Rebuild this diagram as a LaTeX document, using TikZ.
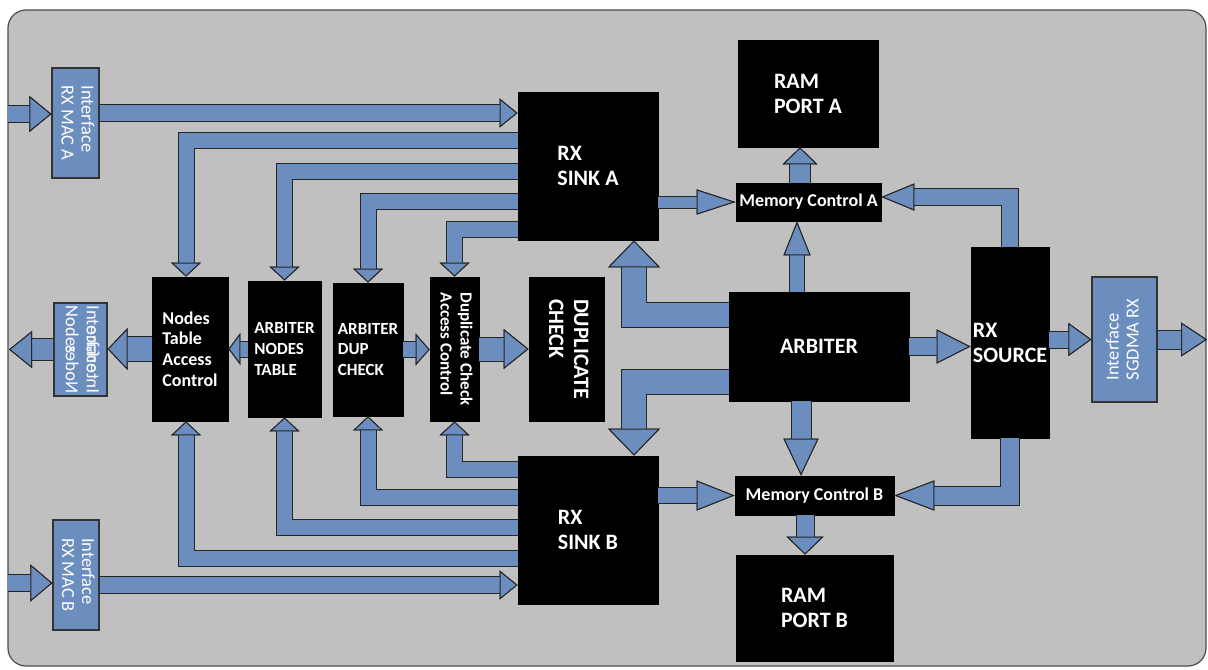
\documentclass[tikz,border=0pt]{standalone}
\usepackage{fontspec}
\setmainfont{Carlito}
\usepackage{graphicx}
\usetikzlibrary{arrows.meta}

\definecolor{bggray}{RGB}{192,192,192}
\definecolor{pipeblue}{RGB}{108,142,191}

\newcommand{\vlines}[2]{\rotatebox{#1}{\begin{tabular}{@{}l@{}}#2\end{tabular}}}
\newcommand{\vmirror}[1]{\rotatebox{-90}{\reflectbox{\begin{tabular}{@{}l@{}}#1\end{tabular}}}}

\begin{document}
\begin{tikzpicture}[
  x=0.5pt, y=-0.5pt,
  blkbox/.style={
    draw=black, fill=black, text=white, align=left, inner sep=0pt,
    font=\bfseries\fontsize{11}{12.5}\selectfont
  },
  smallblk/.style={blkbox, font=\bfseries\fontsize{8.5}{10.3}\selectfont},
  memctl/.style={blkbox, font=\bfseries\fontsize{9}{11}\selectfont},
  ifbox/.style={
    draw=black!80, fill=pipeblue, text=white, inner sep=0pt, line width=0.6pt,
    font=\fontsize{9.2}{10}\selectfont
  },
  iftext/.style={text=white, inner sep=1.5pt, font=\fontsize{9.2}{10.5}\selectfont},
  pipe/.style n args={3}{
    draw=pipeblue, line width=#1, line join=miter,
    -{Triangle[length=#3 0 0, width=#2 0 0, line width=0.5pt 0 0, color=black!85, fill=pipeblue]},
    preaction={draw=black!85, line width=#1+1pt}
  },
]

\useasboundingbox (0,0) rectangle (1208,669);

%% Grey panel
\draw[draw=black!70, fill=bggray, line width=0.6pt, rounded corners=9pt] (8,10) rectangle (1206,666);

%% Interfaces
\node[ifbox, minimum width=23.5pt, minimum height=55pt] (macA) at (75.5,123) {\vlines{-90}{Interface\\RX MAC A}};
\node[ifbox, minimum width=23pt, minimum height=55pt] (macB) at (76,575) {\vlines{-90}{Interface\\RX MAC B}};
\node[ifbox, minimum width=26.5pt, minimum height=46.5pt] (ifnodes) at (80.5,349.5) {};
\node[iftext, anchor=north] (ifnodesA) at (ifnodes.north) {\vlines{-90}{Interface\\Nodes}};
\node[iftext, anchor=south] (ifnodesB) at (ifnodes.south) {\vmirror{Interface\\Nodes}};
\node[ifbox, minimum width=32.5pt, minimum height=62.5pt] (sgdma) at (1124.5,339.5) {\vlines{90}{Interface\\SGDMA RX}};

%% Middle column of tables and checks
\node[blkbox, minimum width=38pt, minimum height=72pt, font=\bfseries\fontsize{9}{10.3}\selectfont] (ntac) at (190,349) {Nodes\\Table\\Access\\Control};
\node[smallblk, minimum width=36.5pt, minimum height=68pt] (ant) at (284.5,349) {ARBITER\\NODES\\TABLE};
\node[smallblk, minimum width=35pt, minimum height=66.5pt] (adc) at (368,349.5) {ARBITER\\DUP\\CHECK};
\node[smallblk, minimum width=24.5pt, minimum height=72pt, font=\bfseries\fontsize{8.5}{10}\selectfont] (dcac) at (454.5,349) {\vlines{-90}{Duplicate Check\\Access Control}};
\node[blkbox, minimum width=37.5pt, minimum height=72pt] (dup) at (566.5,349) {\vlines{-90}{DUPLICATE\\CHECK}};

%% Sinks, arbiter, memory and source
\node[blkbox, minimum width=70pt, minimum height=74pt] (sinka) at (588,166) {RX\\SINK A};
\node[blkbox, minimum width=70pt, minimum height=74pt] (sinkb) at (588,530) {RX\\SINK B};
\node[blkbox, minimum width=90pt, minimum height=54.5pt] (arb) at (819,346.5) {ARBITER};
\node[memctl, minimum width=72.5pt, minimum height=19pt] (mca) at (808.5,202) {Memory Control A};
\node[memctl, minimum width=79.5pt, minimum height=19.5pt] (mcb) at (814.5,495.5) {Memory Control B};
\node[blkbox, minimum width=70pt, minimum height=53.5pt] (rama) at (808,93.5) {RAM\\PORT A};
\node[blkbox, minimum width=78.5pt, minimum height=53pt] (ramb) at (814.5,608) {RAM\\PORT B};
\node[blkbox, minimum width=39pt, minimum height=95.5pt] (rxsrc) at (1010,342.5) {RX\\SOURCE};

%% Free ends and lanes
\coordinate (inA) at (8,114);
\coordinate (inB) at (8,583);
\coordinate (outN) at (9,350);
\coordinate (outS) at (1207,339);
\coordinate (laneA) at (0,113);
\coordinate (laneB) at (0,585);
\coordinate (laneU1) at (0,140);
\coordinate (laneU2) at (0,171);
\coordinate (laneU3) at (0,201);
\coordinate (laneU4) at (0,229);
\coordinate (laneL1) at (0,558);
\coordinate (laneL2) at (0,527);
\coordinate (laneL3) at (0,497);
\coordinate (laneL4) at (0,469);
\coordinate (laneN) at (186,0);
\coordinate (laneArbA) at (0,315);
\coordinate (laneArbB) at (0,382);
\coordinate (laneArbX) at (634,0);
\coordinate (laneMA) at (797,0);
\coordinate (laneRA) at (800,0);
\coordinate (laneMB) at (801,0);
\coordinate (laneRB) at (805,0);
\coordinate (laneSA) at (0,197);

%% MAC inputs
\draw[pipe={8pt}{18pt}{11pt}] (inA) -- (inA -| macA.west);
\draw[pipe={8pt}{14.5pt}{9pt}] (macA.east |- laneA) -- (sinka.west |- laneA);
\draw[pipe={8pt}{18.5pt}{11pt}] (inB) -- (inB -| macB.west);
\draw[pipe={8pt}{14.5pt}{9pt}] (macB.east |- laneB) -- (sinkb.west |- laneB);

%% Middle row
\draw[pipe={12pt}{21pt}{10pt}] (ntac.west) -- (ntac.west -| ifnodes.east);
\draw[pipe={10.5pt}{18.5pt}{11.5pt}] (ifnodes.west) -- (ifnodes.west -| outN);
\draw[pipe={7.5pt}{16pt}{6pt}] (ant.west) -- (ant.west -| ntac.east);
\draw[pipe={7.5pt}{16pt}{7pt}] (adc.east) -- (adc.east -| dcac.west);
\draw[pipe={11.5pt}{20pt}{12.5pt}] (dcac.east) -- (dcac.east -| dup.west);

%% Sink A down to the tables
\draw[pipe={7.5pt}{15pt}{7pt}] (sinka.west |- laneU1) -| (ntac.north -| laneN);
\draw[pipe={7.5pt}{15pt}{7pt}] (sinka.west |- laneU2) -| (ant.north);
\draw[pipe={7.5pt}{15pt}{7pt}] (sinka.west |- laneU3) -| (adc.north);
\draw[pipe={7.5pt}{15pt}{7pt}] (sinka.west |- laneU4) -| (dcac.north);

%% Sink B up to the tables
\draw[pipe={7.5pt}{15pt}{7pt}] (sinkb.west |- laneL1) -| (ntac.south -| laneN);
\draw[pipe={7.5pt}{15pt}{7pt}] (sinkb.west |- laneL2) -| (ant.south);
\draw[pipe={7.5pt}{15pt}{7pt}] (sinkb.west |- laneL3) -| (adc.south);
\draw[pipe={7.5pt}{15pt}{7pt}] (sinkb.west |- laneL4) -| (dcac.south);

%% Arbiter outputs
\draw[pipe={12pt}{26pt}{13.5pt}] (arb.west |- laneArbA) -| (sinka.south -| laneArbX);
\draw[pipe={12pt}{26pt}{13.5pt}] (arb.west |- laneArbB) -| (sinkb.north -| laneArbX);
\draw[pipe={7pt}{13.5pt}{17pt}] (arb.north -| laneMA) -- (mca.south -| laneMA);
\draw[pipe={9.5pt}{17.5pt}{18.5pt}] (arb.south -| laneMB) -- (mcb.north -| laneMB);
\draw[pipe={8.5pt}{17pt}{17pt}] (arb.east) -- (arb.east -| rxsrc.west);

%% Memory controls
\draw[pipe={5.5pt}{12.5pt}{19.5pt}] (sinka.east |- mca.west) -- (mca.west);
\draw[pipe={7.5pt}{15pt}{19pt}] (sinkb.east |- mcb.west) -- (mcb.west);
\draw[pipe={10pt}{17.5pt}{8.5pt}] (mca.north -| laneRA) -- (rama.south -| laneRA);
\draw[pipe={8.5pt}{18.5pt}{9pt}] (mcb.south -| laneRB) -- (ramb.north -| laneRB);
\draw[pipe={8pt}{13.5pt}{16.5pt}] (rxsrc.north) |- (mca.east |- laneSA);
\draw[pipe={9pt}{15pt}{20pt}] (rxsrc.south) |- (mcb.east);

%% Source output
\draw[pipe={8pt}{16.5pt}{11.5pt}] (rxsrc.east |- sgdma.west) -- (sgdma.west);
\draw[pipe={9pt}{17pt}{13pt}] (sgdma.east) -- (sgdma.east -| outS);

\end{tikzpicture}
\end{document}
